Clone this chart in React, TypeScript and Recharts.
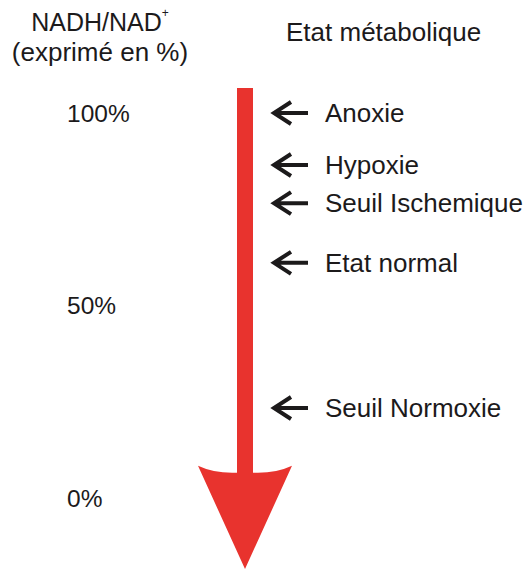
import { ComposedChart, Bar, Scatter, XAxis, YAxis } from 'recharts';

// Echelle NADH/NAD+ (en %)
const yTicks = [0, 50, 100];

// La flèche rouge : du haut vers la pointe
const arrowTop = 106.5;
const headStart = 8.4;
const headJoin = 6.6;
const arrowTip = -18.4;

const arrowData = [{ name: 'NADH', range: [arrowTip, arrowTop] }];

// Etats métaboliques
const stateNames = ['Anoxie', 'Hypoxie', 'Seuil Ischemique', 'Etat normal', 'Seuil Normoxie'];
const stateValues = [100, 86.5, 76.6, 61.1, 23.4];

const stateData = stateNames.map((label, i) => ({ name: 'NADH', value: stateValues[i], label }));

const FONT = '"Liberation Sans", Arial, Helvetica, sans-serif';
const INK = '#1c1a1b';
const RED = '#e8332e';

const ArrowShape = (props: any) => {
  const { x, y, width, height } = props;
  const cx = x + width / 2;
  const perUnit = height / (arrowTop - arrowTip);
  const yWing = y + (arrowTop - headStart) * perUnit;
  const yJoin = y + (arrowTop - headJoin) * perUnit;
  const half = 8;
  const d = [
    `M${cx - half},${y}`,
    `L${cx + half},${y}`,
    `L${cx + half},${yJoin}`,
    `Q${cx + width * 0.32},${yJoin + 1} ${x + width},${yWing}`,
    `L${cx},${y + height}`,
    `L${x},${yWing}`,
    `Q${cx - width * 0.32},${yJoin + 1} ${cx - half},${yJoin}`,
    'Z',
  ].join(' ');
  return <path d={d} fill={RED} />;
};

const StateMarker = (props: any) => {
  const { cx, cy, payload } = props;
  return (
    <g>
      <path
        d={`M${cx + 29},${cy} H${cx + 63} M${cx + 46},${cy - 11} L${cx + 29},${cy} L${cx + 46},${cy + 11}`}
        stroke={INK}
        strokeWidth={4}
        fill="none"
      />
      <text x={cx + 80} y={cy} dominantBaseline="central" fontSize={26} fontFamily={FONT} fill={INK}>
        {payload.label}
      </text>
    </g>
  );
};

const PercentTick = (props: any) => {
  const { y, payload } = props;
  return (
    <text x={67} y={y} dominantBaseline="central" fontSize={24.5} fontFamily={FONT} fill={INK}>
      {`${payload.value}%`}
    </text>
  );
};

export default function App() {
  return (
    <div style={{ position: 'absolute', left: 0, top: 0, width: 526, height: 569, background: '#fff' }}>
      <div
        style={{
          position: 'absolute',
          left: 0,
          width: 200,
          top: 7,
          textAlign: 'center',
          fontFamily: FONT,
          color: INK,
        }}
      >
        <div style={{ fontSize: 25, lineHeight: '30px' }}>
          NADH/NAD<sup style={{ fontSize: 12, verticalAlign: 'top', lineHeight: '12px' }}>+</sup>
        </div>
        <div style={{ fontSize: 26, lineHeight: '30px' }}>(exprimé en %)</div>
      </div>
      <div
        style={{
          position: 'absolute',
          left: 286,
          top: 17,
          fontFamily: FONT,
          fontSize: 26,
          lineHeight: '30px',
          color: INK,
        }}
      >
        Etat métabolique
      </div>
      <ComposedChart
        width={526}
        height={569}
        data={arrowData}
        margin={{ top: 88, right: 0, bottom: 0, left: 0 }}
        style={{ position: 'absolute', left: 0, top: 0 }}
      >
        <XAxis
          dataKey="name"
          type="category"
          allowDuplicatedCategory={false}
          padding={{ left: 0, right: 176 }}
          hide
        />
        <YAxis
          type="number"
          domain={[arrowTip, arrowTop]}
          ticks={yTicks}
          width={140}
          axisLine={false}
          tickLine={false}
          tick={<PercentTick />}
        />
        <Bar dataKey="range" barSize={94} shape={<ArrowShape />} isAnimationActive={false} />
        <Scatter data={stateData} dataKey="value" shape={<StateMarker />} isAnimationActive={false} />
      </ComposedChart>
    </div>
  );
}
